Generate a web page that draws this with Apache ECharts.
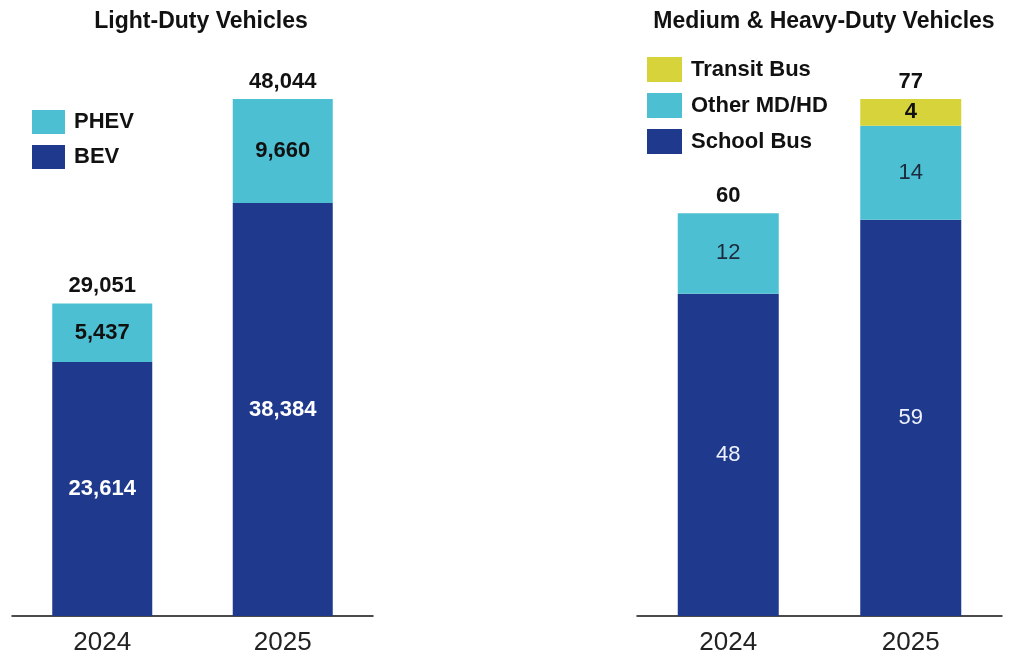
<!DOCTYPE html>
<html>
<head>
<meta charset="utf-8">
<script src="https://cdn.jsdelivr.net/npm/echarts@6/dist/echarts.min.js"></script>
<style>
  html, body { margin: 0; padding: 0; background: #ffffff; }
  #chart { width: 1026px; height: 662px; }
</style>
</head>
<body>
<div id="chart"></div>
<script>
// Categories and values
const years = ['2024', '2025'];

// Light-duty vehicles
const ldBEV = [23614, 38384];
const ldPHEV = [5437, 9660];
const ldTotal = [29051, 48044];

// Medium & heavy-duty vehicles
const mdSchoolBus = [48, 59];
const mdOther = [12, 14];
const mdTransit = [null, 4];
const mdTotal = [60, 77];

const titles = ['Light-Duty Vehicles', 'Medium & Heavy-Duty Vehicles'];

const NAVY = '#1f3a8c';
const CYAN = '#4dbfd3';
const YELLOW = '#d6d43a';
const FONT = '"Liberation Sans", Arial, sans-serif';

const fmt = v => Number(v).toLocaleString('en-US');

function segLabel(color, weight, size) {
  return {
    show: true,
    position: 'inside',
    color: color,
    fontFamily: FONT,
    fontWeight: weight,
    fontSize: size,
    formatter: p => fmt(p.value)
  };
}

// Invisible points at each stack's total, carrying the total label above the bar
function totalSeries(name, data, axis) {
  return {
    name: name,
    type: 'scatter',
    xAxisIndex: axis,
    yAxisIndex: axis,
    data: data,
    symbolSize: 1,
    silent: true,
    z: 10,
    itemStyle: { color: 'rgba(0,0,0,0)', opacity: 1 },
    label: {
      show: true,
      position: 'top',
      distance: 6,
      color: '#111',
      opacity: 1,
      fontFamily: FONT,
      fontWeight: 'bold',
      fontSize: 22,
      formatter: p => fmt(p.value)
    }
  };
}

const chart = echarts.init(document.getElementById('chart'));

const xAxisBase = {
  type: 'category',
  data: years,
  axisLine: { lineStyle: { color: '#111', width: 1.5 } },
  axisTick: { show: false },
  axisLabel: { color: '#222', fontFamily: FONT, fontSize: 26, margin: 14 }
};

chart.setOption({
  backgroundColor: '#ffffff',
  animation: false,
  title: [
    {
      text: titles[0], left: 196, top: 5, textAlign: 'center',
      textStyle: { fontFamily: FONT, fontWeight: 'bold', fontSize: 23, color: '#111' }
    },
    {
      text: titles[1], left: 819, top: 5, textAlign: 'center',
      textStyle: { fontFamily: FONT, fontWeight: 'bold', fontSize: 23, color: '#111' }
    }
  ],
  legend: [
    {
      data: ['PHEV', 'BEV'],
      orient: 'vertical',
      left: 27, top: 105,
      itemWidth: 33, itemHeight: 24, itemGap: 11,
      icon: 'rect',
      textStyle: { fontFamily: FONT, fontWeight: 'bold', fontSize: 22, color: '#111', padding: [0, 0, 0, 4] },
      selectedMode: false
    },
    {
      data: ['Transit Bus', 'Other MD/HD', 'School Bus'],
      orient: 'vertical',
      left: 642, top: 52,
      itemWidth: 35, itemHeight: 25, itemGap: 11,
      icon: 'rect',
      textStyle: { fontFamily: FONT, fontWeight: 'bold', fontSize: 22, color: '#111', padding: [0, 0, 0, 4] },
      selectedMode: false
    }
  ],
  grid: [
    { left: 12, width: 361, top: 99, bottom: 46 },
    { left: 637, width: 365, top: 99, bottom: 46 }
  ],
  xAxis: [
    Object.assign({ gridIndex: 0 }, xAxisBase),
    Object.assign({ gridIndex: 1 }, xAxisBase)
  ],
  yAxis: [
    { gridIndex: 0, type: 'value', min: 0, max: 48044, show: false, splitLine: { show: false } },
    { gridIndex: 1, type: 'value', min: 0, max: 77, show: false, splitLine: { show: false } }
  ],
  series: [
    {
      name: 'BEV', type: 'bar', stack: 'ld', xAxisIndex: 0, yAxisIndex: 0,
      data: ldBEV, barWidth: 100,
      itemStyle: { color: NAVY },
      label: segLabel('#ffffff', 'bold', 22)
    },
    {
      name: 'PHEV', type: 'bar', stack: 'ld', xAxisIndex: 0, yAxisIndex: 0,
      data: ldPHEV, barWidth: 100,
      itemStyle: { color: CYAN },
      label: segLabel('#111', 'bold', 22)
    },
    totalSeries('LD Total', ldTotal, 0),
    {
      name: 'School Bus', type: 'bar', stack: 'md', xAxisIndex: 1, yAxisIndex: 1,
      data: mdSchoolBus, barWidth: 101,
      itemStyle: { color: NAVY },
      label: segLabel('#eef2ff', 'normal', 22)
    },
    {
      name: 'Other MD/HD', type: 'bar', stack: 'md', xAxisIndex: 1, yAxisIndex: 1,
      data: mdOther, barWidth: 101,
      itemStyle: { color: CYAN },
      label: segLabel('#1c2b3c', 'normal', 22)
    },
    {
      name: 'Transit Bus', type: 'bar', stack: 'md', xAxisIndex: 1, yAxisIndex: 1,
      data: mdTransit, barWidth: 101,
      itemStyle: { color: YELLOW },
      label: segLabel('#111', 'bold', 22)
    },
    totalSeries('MD Total', mdTotal, 1)
  ]
});
</script>
</body>
</html>
